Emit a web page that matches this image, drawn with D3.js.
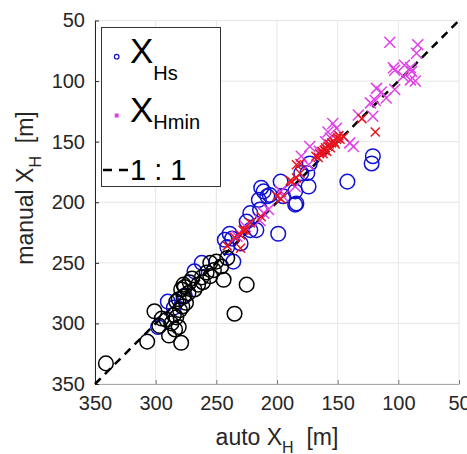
<!DOCTYPE html>
<html><head><meta charset="utf-8">
<script src="https://cdn.jsdelivr.net/npm/d3@7"></script>
<style>body{margin:0;background:#fff}svg{display:block}text{font-family:"Liberation Sans",Arial,sans-serif}</style>
</head><body><svg id="c" width="467" height="454"></svg>
<script>
// [auto X_H, manual X_H]
const xHsBlue = [[298,303],[290,282],[268,257],[241,237],[236,249],[237,230],[197,183],[199,226],[211,191],[206,194],[195,195],[185,202],[185,191],[215,198],[214,206],[222,209],[225,216],[222,223],[217,223],[239,226],[243,231],[230,234],[175,176],[121,162],[122,168],[142,183],[173,168],[180,176],[213,188],[208,195],[174,187],[184,201],[285,287],[276,277],[262,250]];
const xHsBlack = [[341,333],[307,315],[301,290],[295,296],[289,310],[279,316],[281,303],[291,297],[285,293],[276,270],[277,278],[283,282],[278,286],[273,275],[268,272],[265,268],[261,266],[255,261],[252,256],[246,253],[244,264],[255,250],[250,249],[225,268],[235,292],[241,246],[279,272],[281,280],[275,283],[280,289],[283,295],[287,300],[277,268],[272,266],[270,263],[262,262],[258,258],[284,305],[297,302]];
const xHminMagenta = [[107,68],[84,70],[85,77],[104,89],[95,87],[89,92],[90,99],[86,100],[96,96],[103,107],[118,106],[114,109],[119,116],[110,114],[123,118],[133,128],[121,129],[154,135],[137,154],[151,139],[173,154],[156,147],[174,169],[180,162],[185,187],[195,195],[211,209],[103,91],[90,89],[140,151],[158,142],[197,191],[207,206],[214,215],[160,150],[165,158],[233,228],[226,220]];
const xHminRed = [[130,131],[119,142],[145,146],[168,162],[165,160],[163,158],[161,157],[160,155],[158,154],[157,152],[155,151],[153,150],[151,148],[150,147],[148,148],[162,160],[159,158],[156,155],[166,163],[152,152],[149,145],[184,169],[181,176],[188,183],[197,197],[213,212],[222,217],[241,236],[235,229],[226,223],[230,238],[200,195],[189,182],[228,223],[230,227],[184,180],[181,168]];
const ticks = [350,300,250,200,150,100,50];
const domainX = [350,50], domainY = [50,350];

const svg = d3.select("#c");
const L=95, R=459, T=20.5, B=384;
const x = d3.scaleLinear().domain(domainX).range([L,R]);
const y = d3.scaleLinear().domain(domainY).range([T,B]);
const tc = "#262626";

// grid
const g = svg.append("g");
g.selectAll(".gx").data(ticks).join("line").attr("x1",d=>x(d)).attr("x2",d=>x(d)).attr("y1",T).attr("y2",B).attr("stroke","#e6e6e6").attr("stroke-width",1);
g.selectAll(".gy").data(ticks).join("line").attr("y1",d=>y(d)).attr("y2",d=>y(d)).attr("x1",L).attr("x2",R).attr("stroke","#e6e6e6").attr("stroke-width",1);

// axes
const ax = svg.append("g").attr("transform",`translate(0,${B})`).call(d3.axisBottom(x).tickValues(ticks).tickSizeInner(-4).tickSizeOuter(0).tickPadding(12));
const ay = svg.append("g").attr("transform",`translate(${L},0)`).call(d3.axisLeft(y).tickValues(ticks).tickSizeInner(-4).tickSizeOuter(0).tickPadding(10));
[ax,ay].forEach(a=>{a.select(".domain").attr("stroke",tc).attr("stroke-width",1);a.selectAll(".tick line").attr("stroke",tc);a.selectAll("text").attr("font-size",20).attr("fill",tc).attr("font-family","Liberation Sans, Arial, sans-serif");});
ax.select(".domain").attr("stroke","#a8a8a8");
ax.selectAll(".tick line").attr("stroke","#777");

// 1:1 line
svg.append("line").attr("x1",x(350)).attr("y1",y(350)).attr("x2",x(50)).attr("y2",y(50)).attr("stroke","#000").attr("stroke-width",2.5).attr("stroke-dasharray","8,6");

const blue="#1010d0", mag="#e040e6", red="#e8141e";
svg.append("g").selectAll("circle").data(xHsBlue).join("circle").attr("cx",d=>x(d[0])).attr("cy",d=>y(d[1])).attr("r",7.3).attr("fill","none").attr("stroke",blue).attr("stroke-width",1.5);
svg.append("g").selectAll("circle").data(xHsBlack).join("circle").attr("cx",d=>x(d[0])).attr("cy",d=>y(d[1])).attr("r",7.3).attr("fill","none").attr("stroke","#000").attr("stroke-width",1.5);
function cross(sel,data,s,col){
  sel.append("g").selectAll("path").data(data).join("path")
   .attr("d",d=>{const cx=x(d[0]),cy=y(d[1]);return `M${cx-s},${cy-s}L${cx+s},${cy+s}M${cx-s},${cy+s}L${cx+s},${cy-s}`;})
   .attr("stroke",col).attr("stroke-width",1.5).attr("fill","none");
}
cross(svg,xHminMagenta,5.5,mag);
cross(svg,xHminRed,4.5,red);

// axis labels
const xl = svg.append("text").attr("x",277).attr("y",445).attr("text-anchor","middle").attr("font-size",23).attr("fill",tc);
xl.append("tspan").text("auto X");
xl.append("tspan").attr("font-size",16).attr("dy",8).text("H");
xl.append("tspan").attr("dy",-8).text("\u00a0 [m]");
const yl = svg.append("text").attr("transform","translate(33,188) rotate(-90)").attr("text-anchor","middle").attr("font-size",23).attr("fill",tc);
yl.append("tspan").text("manual X");
yl.append("tspan").attr("font-size",16).attr("dy",8).text("H");
yl.append("tspan").attr("dy",-8).text("\u00a0 [m]");

// legend
const lg = svg.append("g");
lg.append("rect").attr("x",101.5).attr("y",27.5).attr("width",119).attr("height",159).attr("fill","#fff").attr("stroke","#333").attr("stroke-width",1);
lg.append("circle").attr("cx",116.7).attr("cy",56.7).attr("r",2.3).attr("fill","none").attr("stroke",blue).attr("stroke-width",1.2);
lg.append("rect").attr("x",114.7).attr("y",113.5).attr("width",4).attr("height",4).attr("fill",mag);
const t1 = lg.append("text").attr("x",130).attr("y",63.3).attr("font-size",35).attr("fill","#000");
t1.append("tspan").text("X");
t1.append("tspan").attr("font-size",20).attr("dy",16.5).text("Hs");
const t2 = lg.append("text").attr("x",130).attr("y",121.7).attr("font-size",35).attr("fill","#000");
t2.append("tspan").text("X");
t2.append("tspan").attr("font-size",20).attr("dy",7.6).text("Hmin");
lg.append("line").attr("x1",103).attr("x2",128).attr("y1",170).attr("y2",170).attr("stroke","#000").attr("stroke-width",2.5).attr("stroke-dasharray","9,7");
lg.append("text").attr("x",130).attr("y",179.5).attr("font-size",29).attr("fill","#000").text("1 : 1");
</script></body></html>
